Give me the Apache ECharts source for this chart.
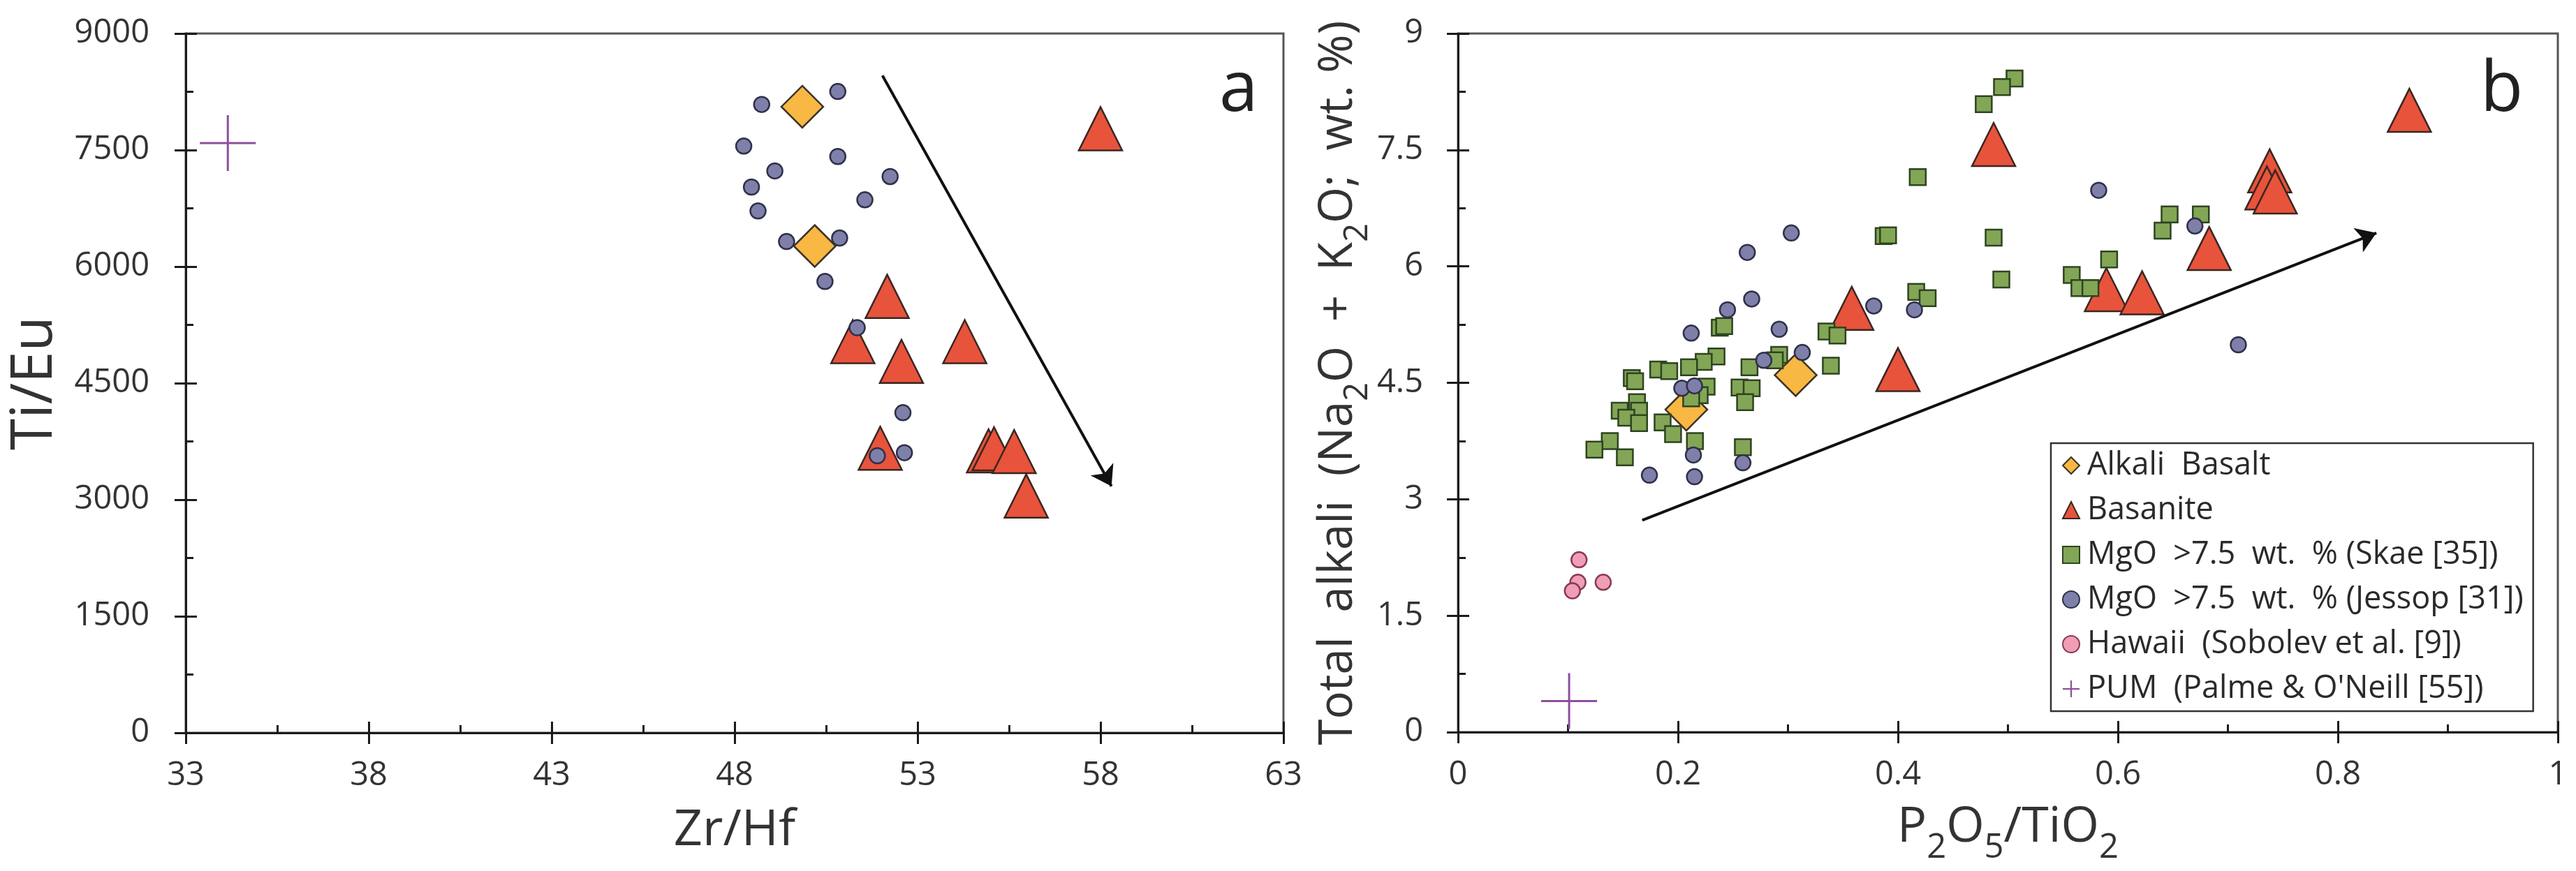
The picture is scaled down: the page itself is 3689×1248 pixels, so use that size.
<!DOCTYPE html>
<html><head><meta charset="utf-8">
<script src="https://cdn.jsdelivr.net/npm/echarts@6/dist/echarts.min.js"></script>
<style>html,body{margin:0;padding:0;background:#fff}#c{width:3689px;height:1248px}</style>
</head><body><div id="c"></div>
<script>
const FONT = '"Open Sans", "Noto Sans", sans-serif';

// ---------- Panel a : Zr/Hf vs Ti/Eu ----------
const aAlkali = [[49.85, 8057], [50.19, 6265]];
const aBasanite = [[58.0, 7775], [52.17, 5617], [51.23, 5035], [54.29, 5035], [52.56, 4781],
  [51.98, 3662], [54.94, 3629], [55.09, 3655], [55.64, 3620], [55.97, 3048]];
const aJessop = [[48.74, 8087], [50.82, 8254], [48.25, 7551], [50.82, 7417], [49.10, 7231],
  [52.25, 7159], [48.46, 7024], [51.56, 6859], [48.64, 6716], [49.42, 6323], [50.87, 6368],
  [50.47, 5809], [51.35, 5214], [52.60, 4120], [51.90, 3566], [52.64, 3605]];
const aPUM = [[34.15, 7590]];
const aArrow = [[52.04, 8458], [58.3, 3173]];

// ---------- Panel b : P2O5/TiO2 vs total alkali ----------
const bAlkali = [[0.2076, 4.155], [0.307, 4.60]];
const bBasanite = [[0.487, 7.57], [0.865, 8.01], [0.738, 7.23], [0.7355, 7.01], [0.743, 6.96],
  [0.683, 6.23], [0.5895, 5.70], [0.622, 5.66], [0.358, 5.46], [0.400, 4.67]];
const bSkae = [[0.387, 6.39], [0.391, 6.40], [0.487, 6.37], [0.494, 5.83], [0.4166, 5.67],
  [0.427, 5.59], [0.238, 5.21], [0.242, 5.23], [0.335, 5.16], [0.345, 5.11], [0.235, 4.84],
  [0.2234, 4.77], [0.210, 4.70], [0.292, 4.86], [0.288, 4.79], [0.265, 4.70], [0.339, 4.72],
  [0.182, 4.67], [0.192, 4.65], [0.158, 4.56], [0.161, 4.52], [0.226, 4.45], [0.2197, 4.34],
  [0.212, 4.30], [0.256, 4.44], [0.267, 4.43], [0.261, 4.25], [0.1627, 4.25], [0.1646, 4.14],
  [0.147, 4.14], [0.153, 4.05], [0.1646, 3.98], [0.186, 3.99], [0.1955, 3.84], [0.2154, 3.75],
  [0.138, 3.75], [0.124, 3.64], [0.1517, 3.54], [0.259, 3.67], [0.506, 8.42], [0.4946, 8.31],
  [0.478, 8.09], [0.418, 7.15], [0.592, 6.09], [0.558, 5.89], [0.565, 5.72], [0.575, 5.72],
  [0.647, 6.67], [0.6406, 6.46], [0.6754, 6.67]];
const bJessop = [[0.303, 6.43], [0.263, 6.18], [0.267, 5.58], [0.245, 5.44], [0.212, 5.14],
  [0.292, 5.19], [0.378, 5.49], [0.415, 5.44], [0.313, 4.89], [0.278, 4.79], [0.2035, 4.43],
  [0.215, 4.46], [0.214, 3.57], [0.259, 3.47], [0.174, 3.31], [0.215, 3.29], [0.5825, 6.98],
  [0.670, 6.52], [0.7095, 4.99]];
const bHawaii = [[0.110, 2.22], [0.109, 1.93], [0.132, 1.93], [0.104, 1.82]];
const bPUM = [[0.101, 0.40]];
const bArrow = [[0.1675, 2.73], [0.835, 6.43]];

const names = ['Alkali  Basalt', 'Basanite', 'MgO  >7.5  wt.  % (Skae [35])',
  'MgO  >7.5  wt.  % (Jessop [31])', 'Hawaii  (Sobolev et al. [9])', 'PUM  (Palme & O\'Neill [55])'];

const CROSS = 'path://M0,38.5L80,38.5L80,41.5L0,41.5Z M38.5,0L41.5,0L41.5,80L38.5,80Z';
const CROSS_ICON = 'path://M0,11L24,11L24,13.2L0,13.2Z M10.9,0L13.1,0L13.1,24L10.9,24Z';

const AX = '#1a1a1a';
function nameStyle(size, sub) {
  return {
    fontSize: size, fontFamily: FONT, color: '#333', lineHeight: size + 8,
    rich: { sub: { fontSize: sub, fontFamily: FONT, color: '#333', verticalAlign: 'bottom', lineHeight: sub, padding: [0, 0, -Math.round(sub * 0.3), 0] } }
  };
}

function mainAxis(dim, gi, min, max, interval, name, nameGap, labelMargin, nStyle) {
  return {
    type: 'value', gridIndex: gi, min, max, interval,
    position: dim === 'x' ? 'bottom' : 'left',
    name, nameLocation: 'middle', nameGap, nameTextStyle: nStyle,
    axisLine: { show: true, onZero: false, lineStyle: { color: AX, width: 3 } },
    axisTick: { show: true, inside: false, length: 16, lineStyle: { color: AX, width: 3 } },
    minorTick: { show: false },
    axisLabel: { show: true, margin: labelMargin, fontSize: 47, fontFamily: FONT, color: '#333',
      formatter: v => String(Math.round(v * 1000) / 1000) },
    splitLine: { show: false }, minorSplitLine: { show: false }
  };
}
function innerAxis(dim, gi, min, max, interval) {
  return {
    type: 'value', gridIndex: gi, min, max, interval,
    position: dim === 'x' ? 'bottom' : 'left',
    axisLine: { show: false, onZero: false },
    axisTick: { show: true, inside: true, length: 16, lineStyle: { color: AX, width: 3 } },
    minorTick: { show: true, splitNumber: 2, length: 11, lineStyle: { color: AX, width: 3 } },
    axisLabel: { show: false }, splitLine: { show: false }, minorSplitLine: { show: false }
  };
}
function sc(name, data, gi, symbol, size, fill, border) {
  return {
    type: 'scatter', name, data, xAxisIndex: gi * 2, yAxisIndex: gi * 2,
    symbol, symbolSize: size, silent: true,
    itemStyle: { color: fill, borderColor: border, borderWidth: border ? 2.5 : 0, opacity: 1 },
    emphasis: { disabled: true }
  };
}
function arrow(pts) {
  return {
    silent: true, symbol: ['none', 'arrow'], symbolSize: 28, animation: false,
    lineStyle: { color: '#111', width: 4, type: 'solid' }, label: { show: false },
    emphasis: { disabled: true },
    data: [[{ coord: pts[0] }, { coord: pts[1] }]]
  };
}

const C = {
  alkali: ['#F9B743', '#3b3326'], bas: ['#E8533B', '#3a2622'], skae: ['#82A656', '#2e4420'],
  jes: ['#7E80AA', '#30304a'], haw: ['#F09EB6', '#8a3a55'], pum: '#8E4E9E'
};

const sA_bas = sc(names[1], aBasanite, 0, 'triangle', 62, C.bas[0], C.bas[1]);
sA_bas.markLine = arrow(aArrow);
const sB_bas = sc(names[1], bBasanite, 1, 'triangle', 62, C.bas[0], C.bas[1]);
sB_bas.markLine = arrow(bArrow);

const option = {
  animation: false,
  backgroundColor: '#fff',
  grid: [
    { left: 266, right: 1851, top: 48, bottom: 198, show: true, borderColor: '#555', borderWidth: 3, outerBoundsMode: 'none' },
    { left: 2088, right: 26, top: 48, bottom: 199, show: true, borderColor: '#555', borderWidth: 3, outerBoundsMode: 'none' }
  ],
  xAxis: [
    mainAxis('x', 0, 33, 63, 5, 'Zr/Hf', 100, 38, nameStyle(72, 50)),
    innerAxis('x', 0, 33, 63, 5),
    mainAxis('x', 1, 0, 1, 0.2, 'P{sub|2}O{sub|5}/TiO{sub|2}', 98, 38, nameStyle(70, 49)),
    innerAxis('x', 1, 0, 1, 0.2)
  ],
  yAxis: [
    mainAxis('y', 0, 0, 9000, 1500, 'Ti/Eu', 170, 52, nameStyle(82, 56)),
    innerAxis('y', 0, 0, 9000, 1500),
    mainAxis('y', 1, 0, 9, 1.5, 'Total  alkali  (Na{sub|2}O  +  K{sub|2}O;  wt. %)', 124, 50, nameStyle(67, 47)),
    innerAxis('y', 1, 0, 9, 1.5)
  ],
  legend: {
    show: true, orient: 'vertical', left: 2937, top: 635,
    itemWidth: 24, itemHeight: 24, itemGap: 12, padding: [6, 14, 6, 16],
    borderColor: '#333', borderWidth: 2.5, backgroundColor: '#fff', borderRadius: 0,
    selectedMode: false,
    textStyle: { fontSize: 45, fontFamily: FONT, color: '#2a2a2a', lineHeight: 52, padding: [0, 0, 0, 6] },
    data: [names[0], names[1], names[2], names[3], names[4], { name: names[5], icon: CROSS_ICON }]
  },
  graphic: [
    { type: 'text', left: 1746, top: 81, silent: true, style: { text: 'a', fontSize: 100, fontFamily: FONT, fill: '#222' } },
    { type: 'text', left: 3552, top: 81, silent: true, style: { text: 'b', fontSize: 100, fontFamily: FONT, fill: '#222' } }
  ],
  series: [
    sc(names[0], aAlkali, 0, 'diamond', 60, C.alkali[0], C.alkali[1]),
    sA_bas,
    sc(names[3], aJessop, 0, 'circle', 22, C.jes[0], C.jes[1]),
    sc(names[5], aPUM, 0, CROSS, 80, C.pum, null),
    sc(names[0], bAlkali, 1, 'diamond', 60, C.alkali[0], C.alkali[1]),
    sB_bas,
    sc(names[2], bSkae, 1, 'rect', 23, C.skae[0], C.skae[1]),
    sc(names[3], bJessop, 1, 'circle', 22, C.jes[0], C.jes[1]),
    sc(names[4], bHawaii, 1, 'circle', 22, C.haw[0], C.haw[1]),
    sc(names[5], bPUM, 1, CROSS, 80, C.pum, null)
  ]
};
const chart = echarts.init(document.getElementById('c'), null, { renderer: 'canvas' });
chart.setOption(option);
</script></body></html>
